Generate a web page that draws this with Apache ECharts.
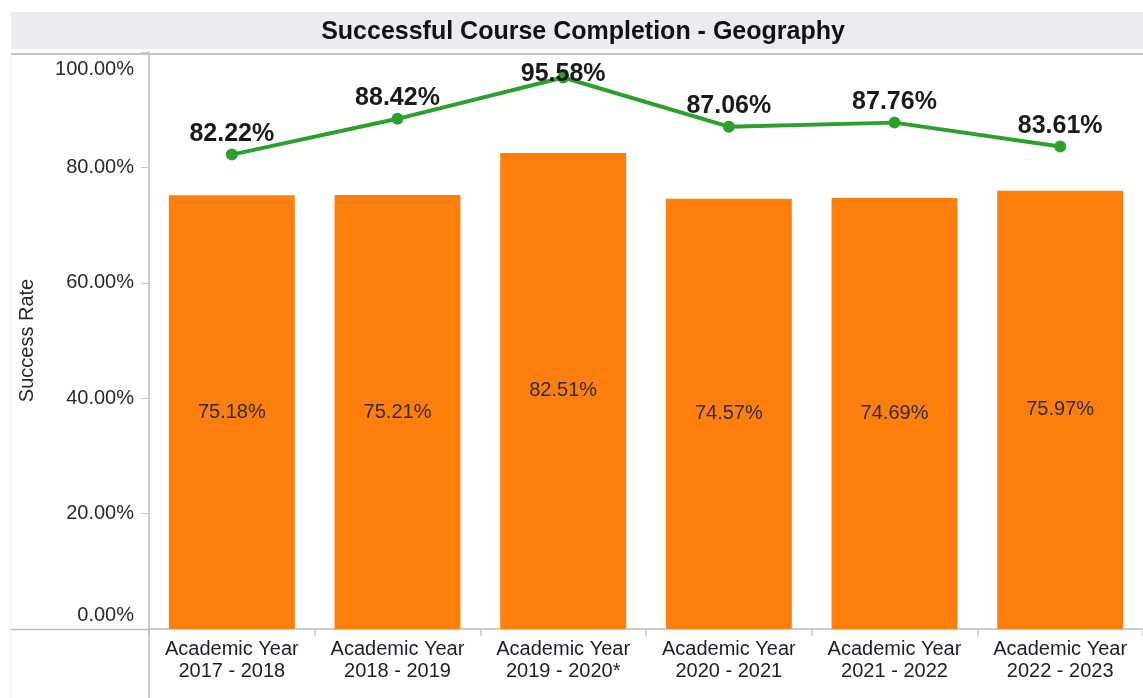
<!DOCTYPE html>
<html>
<head>
<meta charset="utf-8">
<script src="https://cdn.jsdelivr.net/npm/echarts@6/dist/echarts.min.js"></script>
<style>
  html, body { margin: 0; padding: 0; background: #fff; }
  #chart { width: 1143px; height: 698px; }
</style>
</head>
<body>
<div id="chart"></div>
<script>
const titleText = 'Successful Course Completion - Geography';
const categories = [
  'Academic Year\n2017 - 2018',
  'Academic Year\n2018 - 2019',
  'Academic Year\n2019 - 2020*',
  'Academic Year\n2020 - 2021',
  'Academic Year\n2021 - 2022',
  'Academic Year\n2022 - 2023'
];
const barValues = [75.18, 75.21, 82.51, 74.57, 74.69, 75.97];
const lineValues = [82.22, 88.42, 95.58, 87.06, 87.76, 83.61];
const yTicks = [0, 20, 40, 60, 80, 100];
const yAxisName = 'Success Rate';

const FONT = '"Liberation Sans", Arial, sans-serif';
const chart = echarts.init(document.getElementById('chart'), null, { renderer: 'canvas' });

const lineData = lineValues.map(v => (v > 93 ? { value: v, label: { offset: [0, 17] } } : v));

chart.setOption({
  backgroundColor: '#ffffff',
  animation: false,
  textStyle: { fontFamily: FONT },
  title: {
    text: titleText,
    left: 578,
    textAlign: 'center',
    top: 15,
    textStyle: { fontFamily: FONT, fontSize: 25, fontWeight: 'bold', color: '#111111' }
  },
  graphic: [
    { type: 'rect', z: -1, shape: { x: 11, y: 12, width: 1132, height: 37 }, style: { fill: '#ebecf0' } },
    { type: 'line', z: 10, shape: { x1: 11, y1: 54, x2: 1143, y2: 54 }, style: { stroke: '#c4c4c4', lineWidth: 2 } },
    { type: 'line', z: 10, shape: { x1: 11, y1: 629.5, x2: 149, y2: 629.5 }, style: { stroke: '#bdbdbd', lineWidth: 1.5 } },
    { type: 'line', z: 10, shape: { x1: 149, y1: 629, x2: 149, y2: 698 }, style: { stroke: '#bdbdbd', lineWidth: 1.5 } },
    { type: 'line', z: 10, shape: { x1: 10.5, y1: 54, x2: 10.5, y2: 698 }, style: { stroke: '#f0f0f0', lineWidth: 1 } }
  ],
  grid: { left: 149, right: 0, top: 52, bottom: 69, containLabel: false },
  xAxis: {
    type: 'category',
    data: categories,
    axisLine: { show: true, lineStyle: { color: '#bdbdbd', width: 1.5 } },
    axisTick: { show: true, length: 7, lineStyle: { color: '#c8c8c8', width: 1.5 } },
    axisLabel: {
      fontFamily: FONT, fontSize: 20, lineHeight: 22, color: '#1e1e2a', margin: 9, interval: 0
    },
    splitLine: { show: false }
  },
  yAxis: {
    type: 'value',
    min: 0,
    max: 100,
    interval: 20,
    name: yAxisName,
    nameLocation: 'middle',
    nameGap: 112,
    nameTextStyle: { fontFamily: FONT, fontSize: 20, color: '#2a2a2a' },
    axisLine: { show: true, lineStyle: { color: '#bdbdbd', width: 1.5 } },
    axisTick: { show: true, length: 8, lineStyle: { color: '#c8c8c8', width: 1 } },
    splitLine: { show: false },
    axisLabel: {
      fontFamily: FONT, fontSize: 20, color: '#2a2a2a', margin: 15,
      verticalAlignMinLabel: 'bottom',
      verticalAlignMaxLabel: 'top',
      formatter: function (v) {
        const s = v.toFixed(2) + '%';
        if (v === yTicks[0]) return '{lo|' + s + '}';
        if (v === yTicks[yTicks.length - 1]) return '{hi|' + s + '}';
        return s;
      },
      rich: {
        lo: { fontFamily: FONT, fontSize: 20, color: '#2a2a2a', padding: [0, 0, 4, 0] },
        hi: { fontFamily: FONT, fontSize: 20, color: '#2a2a2a', padding: [7, 0, 0, 0] }
      }
    }
  },
  series: [
    {
      type: 'bar',
      data: barValues,
      barCategoryGap: '24%',
      itemStyle: { color: '#ff7f0e' },
      label: {
        show: true,
        position: 'inside',
        fontFamily: FONT,
        fontSize: 20,
        color: '#2e2e2e',
        formatter: p => p.value.toFixed(2) + '%'
      },
      z: 2
    },
    {
      type: 'line',
      data: lineData,
      symbol: 'circle',
      symbolSize: 12,
      lineStyle: { color: '#2ca02c', width: 4 },
      itemStyle: { color: '#2ca02c' },
      label: {
        show: true,
        position: 'top',
        distance: 2,
        fontFamily: FONT,
        fontSize: 25,
        fontWeight: 'bold',
        color: '#1a1a1a',
        formatter: p => (typeof p.value === 'number' ? p.value : p.data.value).toFixed(2) + '%'
      },
      z: 3
    }
  ]
});
</script>
</body>
</html>
